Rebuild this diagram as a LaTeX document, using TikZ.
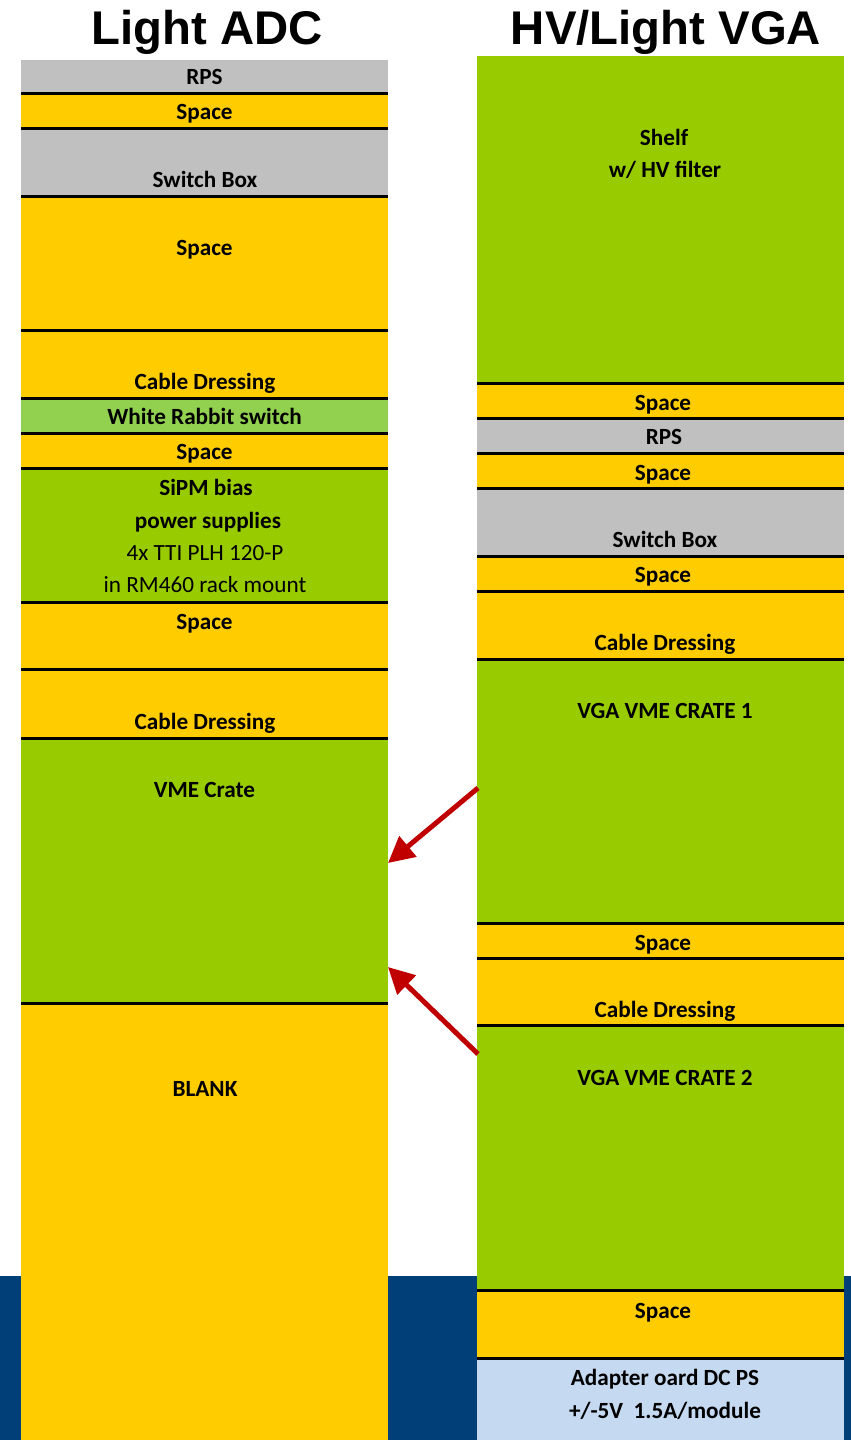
\documentclass[tikz,border=0pt]{standalone}
\usepackage{fontspec}
\setmainfont{Carlito}
\newfontfamily\titlefont{Liberation Sans}
\usetikzlibrary{arrows.meta}
\definecolor{ylw}{HTML}{FFCC00}
\definecolor{gry}{HTML}{C0C0C0}
\definecolor{grn}{HTML}{99CC00}
\definecolor{lgrn}{HTML}{92D050}
\definecolor{lblu}{HTML}{C5D9F1}
\definecolor{dblu}{HTML}{003F78}
\definecolor{arrred}{HTML}{C00000}
\tikzset{
  blk/.style={draw=none, inner sep=0pt, outer sep=0pt, minimum width=367pt},
  sep/.style={line width=3pt, black},
  lbl/.style={anchor=base, inner sep=0pt, font=\fontsize{23.2}{25}\selectfont\bfseries},
  lblr/.style={anchor=base, inner sep=0pt, font=\fontsize{23.2}{25}\selectfont},
  ttl/.style={anchor=base, inner sep=0pt, font=\titlefont\fontsize{47.3}{50}\selectfont\bfseries},
  redarrow/.style={arrred, line width=5pt, -{Triangle[length=26pt, width=26pt]}}
}
\newcommand\blockat[5]{% name, xcenter, ytop, ybottom, color
  \node[blk, fill=#5, minimum height={#4-#3}] (#1) at (#2, {(#3+#4)/2}) {};}
\begin{document}
\begin{tikzpicture}[x=1pt, y=-1pt]
\useasboundingbox (0,0) rectangle (851,1440);
\fill[white] (0,0) rectangle (851,1440);
\fill[dblu] (0,1276) rectangle (851,1440);
% titles
\node[ttl] (tL) at (207.5,44) {Light ADC};
\node[ttl] (tR) at (666,44) {HV/Light VGA};
% left column (x 21..388, center 204.5)
\blockat{L1}{204.5}{60}{93}{gry}
\blockat{L2}{204.5}{93}{128}{ylw}
\blockat{L3}{204.5}{128}{196}{gry}
\blockat{L4}{204.5}{196}{330}{ylw}
\blockat{L5}{204.5}{330}{398}{ylw}
\blockat{L6}{204.5}{398}{433}{lgrn}
\blockat{L7}{204.5}{433}{468}{ylw}
\blockat{L8}{204.5}{468}{602}{grn}
\blockat{L9}{204.5}{602}{669}{ylw}
\blockat{L10}{204.5}{669}{738}{ylw}
\blockat{L11}{204.5}{738}{1003}{grn}
\blockat{L12}{204.5}{1003}{1440}{ylw}
\foreach \a/\b in {L1/L2,L2/L3,L3/L4,L4/L5,L5/L6,L6/L7,L7/L8,L8/L9,L9/L10,L10/L11,L11/L12}
  \draw[sep] (\a.south west) -- (\a.south east);
% right column (x 477..844, center 660.5)
\blockat{R1}{660.5}{56}{383}{grn}
\blockat{R2}{660.5}{383}{418}{ylw}
\blockat{R3}{660.5}{418}{453}{gry}
\blockat{R4}{660.5}{453}{488}{ylw}
\blockat{R5}{660.5}{488}{556}{gry}
\blockat{R6}{660.5}{556}{591}{ylw}
\blockat{R7}{660.5}{591}{659}{ylw}
\blockat{R8}{660.5}{659}{923}{grn}
\blockat{R9}{660.5}{923}{958}{ylw}
\blockat{R10}{660.5}{958}{1025}{ylw}
\blockat{R11}{660.5}{1025}{1290}{grn}
\blockat{R12}{660.5}{1290}{1358}{ylw}
\blockat{R13}{660.5}{1358}{1440}{lblu}
\foreach \a/\b in {R1/R2,R2/R3,R3/R4,R4/R5,R5/R6,R6/R7,R7/R8,R8/R9,R9/R10,R10/R11,R11/R12,R12/R13}
  \draw[sep] (\a.south west) -- (\a.south east);
% left labels
\node[lbl] (l1) at (204.5,84) {RPS};
\node[lbl] (l2) at (204.5,119) {Space};
\node[lbl] (l3) at (205,187) {Switch Box};
\node[lbl] (l4) at (204.5,255) {Space};
\node[lbl] (l5) at (205,389) {Cable Dressing};
\node[lbl] (l6) at (204.5,424) {White Rabbit switch};
\node[lbl] (l7) at (204.5,459) {Space};
\node[lbl] (l8a) at (206,495) {SiPM bias};
\node[lbl] (l8b) at (208,528) {power supplies};
\node[lblr] (l8c) at (205,560) {4x TTI PLH 120-P};
\node[lblr] (l8d) at (205,592) {in RM460 rack mount};
\node[lbl] (l9) at (204.5,629) {Space};
\node[lbl] (l10) at (205,729) {Cable Dressing};
\node[lbl] (l11) at (204.5,797) {VME Crate};
\node[lbl] (l12) at (205,1096) {BLANK};
% right labels
\node[lbl] (r1a) at (664,145) {Shelf};
\node[lbl] (r1b) at (665,177) {w/ HV filter};
\node[lbl] (r2) at (663,410) {Space};
\node[lbl] (r3) at (664,444) {RPS};
\node[lbl] (r4) at (663,480) {Space};
\node[lbl] (r5) at (665,547) {Switch Box};
\node[lbl] (r6) at (663,582) {Space};
\node[lbl] (r7) at (665,650) {Cable Dressing};
\node[lbl] (r8) at (665,718) {VGA VME CRATE 1};
\node[lbl] (r9) at (663,950) {Space};
\node[lbl] (r10) at (665,1017) {Cable Dressing};
\node[lbl] (r11) at (665,1085) {VGA VME CRATE 2};
\node[lbl] (r12) at (663,1318) {Space};
\node[lbl] (r13a) at (665,1385) {Adapter oard DC PS};
\node[lbl] (r13b) at (665,1418) {+/-5V\ \ 1.5A/module};
% arrows
\coordinate (a1s) at (478,788);
\coordinate (a1e) at (388,863);
\coordinate (a2s) at (478,1054);
\coordinate (a2e) at (388,967);
\draw[redarrow] (a1s) -- (a1e);
\draw[redarrow] (a2s) -- (a2e);
\end{tikzpicture}
\end{document}
